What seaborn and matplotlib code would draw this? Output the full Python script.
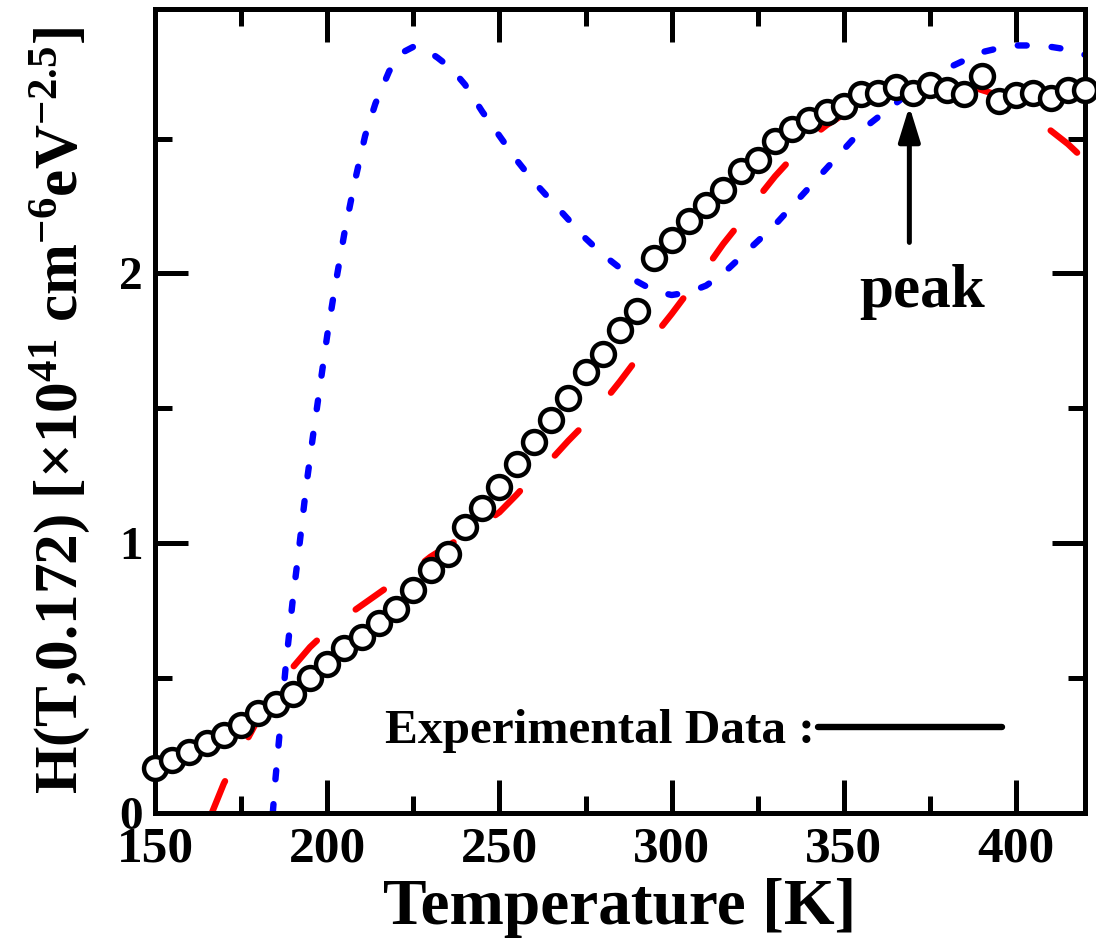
import numpy as np
import pandas as pd
import matplotlib
matplotlib.use("Agg")
import matplotlib.pyplot as plt
from matplotlib.ticker import MultipleLocator
import seaborn as sns

# Measured H(T, 0.172) values, one per 5 K step
exp_T = list(range(150, 421, 5))
exp_H = [0.166, 0.196, 0.227, 0.258, 0.289, 0.326, 0.369, 0.406, 0.44, 0.499,
         0.554, 0.61, 0.653, 0.703, 0.758, 0.826, 0.90, 0.96, 1.06, 1.13,
         1.21, 1.295, 1.375, 1.455, 1.54, 1.635, 1.70, 1.79, 1.86, 2.056,
         2.125, 2.195, 2.255, 2.31, 2.38, 2.42, 2.49, 2.535, 2.57, 2.60,
         2.62, 2.665, 2.67, 2.69, 2.67, 2.70, 2.68, 2.665, 2.73, 2.64,
         2.66, 2.67, 2.65, 2.68, 2.68]

# Model curve (red, long dashes)
red_T = [166.5, 170, 175, 180, 185, 190, 195, 200, 205, 210, 215, 220, 225,
         230, 235, 240, 245, 250, 255, 260, 265, 270, 275, 280, 285, 290,
         295, 300, 305, 310, 315, 320, 325, 330, 335, 340, 345, 350, 355,
         360, 365, 370, 375, 380, 385, 390, 395, 400, 405, 410, 415, 420]
red_H = [0.0, 0.11, 0.23, 0.35, 0.45, 0.54, 0.615, 0.675, 0.725, 0.77, 0.815,
         0.86, 0.90, 0.95, 0.99, 1.03, 1.07, 1.115, 1.18, 1.25, 1.31, 1.38,
         1.445, 1.52, 1.60, 1.685, 1.77, 1.85, 1.935, 2.02, 2.11, 2.19, 2.28,
         2.36, 2.43, 2.50, 2.55, 2.59, 2.62, 2.65, 2.67, 2.69, 2.70, 2.71,
         2.70, 2.68, 2.66, 2.63, 2.58, 2.53, 2.48, 2.42]

# Model curve (blue, short dashes)
blue_T = [184.2, 185, 186, 188, 190, 192, 194, 196, 198, 200, 202, 205, 208,
          211, 214, 218, 222, 225, 228, 232, 236, 240, 245, 250, 255, 260,
          265, 270, 275, 280, 285, 290, 295, 300, 305, 310, 315, 320, 325,
          330, 335, 340, 345, 350, 355, 360, 365, 370, 375, 380, 385, 390,
          395, 400, 405, 410, 415, 420]
blue_H = [0.0, 0.13, 0.27, 0.55, 0.79, 1.00, 1.22, 1.41, 1.59, 1.77, 1.93,
          2.15, 2.34, 2.51, 2.63, 2.75, 2.82, 2.84, 2.835, 2.80, 2.76, 2.70,
          2.60, 2.51, 2.42, 2.34, 2.27, 2.20, 2.13, 2.07, 2.02, 1.97, 1.935,
          1.92, 1.93, 1.955, 2.00, 2.06, 2.12, 2.18, 2.25, 2.32, 2.39, 2.46,
          2.53, 2.58, 2.63, 2.68, 2.72, 2.76, 2.79, 2.82, 2.835, 2.845,
          2.845, 2.84, 2.83, 2.81]

x_ticks = [150, 200, 250, 300, 350, 400]
y_ticks = [0, 1, 2]

exp_df = pd.DataFrame({"T": exp_T, "H": exp_H})
red_df = pd.DataFrame({"T": red_T, "H": red_H})
blue_df = pd.DataFrame({"T": blue_T, "H": blue_H})

sns.set_theme(style="ticks")
plt.rcParams["font.family"] = ["Liberation Serif", "DejaVu Serif"]
plt.rcParams["font.weight"] = "bold"
plt.rcParams["mathtext.fontset"] = "custom"
plt.rcParams["mathtext.rm"] = "Liberation Serif:bold"
plt.rcParams["mathtext.bf"] = "Liberation Serif:bold"
plt.rcParams["mathtext.default"] = "rm"
for key in ("text.color", "axes.labelcolor", "xtick.color", "ytick.color",
            "axes.edgecolor"):
    plt.rcParams[key] = "black"

fig = plt.figure(figsize=(10.96, 9.42), dpi=100)
ax = fig.add_axes([0.1414, 0.1369, 0.8486, 0.8535])

sns.lineplot(data=red_df, x="T", y="H", ax=ax, color="#ff0000", linewidth=4.6,
             sort=False, estimator=None, zorder=2)
ax.lines[-1].set_dashes((5.4, 7.8))
ax.lines[-1].set_dash_capstyle("round")

sns.lineplot(data=blue_df, x="T", y="H", ax=ax, color="#0000ff", linewidth=4.6,
             sort=False, estimator=None, zorder=2)
ax.lines[-1].set_dashes((1.4, 3.9))
ax.lines[-1].set_dash_capstyle("round")

sns.scatterplot(data=exp_df, x="T", y="H", ax=ax, marker="o", s=16.5 ** 2,
                facecolor="white", edgecolor="black", linewidth=3.2,
                zorder=3, clip_on=False)

ax.set_xlim(150, 420)
ax.set_ylim(0, 2.98)
ax.set_xticks(x_ticks)
ax.set_yticks(y_ticks)
ax.xaxis.set_minor_locator(MultipleLocator(25))
ax.yaxis.set_minor_locator(MultipleLocator(0.5))

for s in ax.spines.values():
    s.set_linewidth(3.6)
    s.set_visible(True)
    s.set_color("black")
ax.tick_params(which="both", direction="in", top=True, right=True,
               width=3.6, color="black")
ax.tick_params(which="major", length=24)
ax.tick_params(which="minor", length=12)
ax.tick_params(axis="x", which="major", labelsize=37, pad=10)
ax.tick_params(axis="y", which="major", labelsize=34, pad=9)
for lab in ax.get_xticklabels() + ax.get_yticklabels():
    lab.set_fontweight("bold")

ax.set_xlabel("Temperature [K]", fontsize=47, fontweight="bold", labelpad=4)
ax.set_ylabel(r"H(T,0.172) [×10$^{41}$ cm$^{-6}$eV$^{-2.5}$]",
              fontsize=44, fontweight="bold")
ax.yaxis.set_label_coords(-0.068, 0.5)

# Peak marker
ax.annotate("", xy=(369, 2.62), xytext=(369, 2.115),
            arrowprops=dict(arrowstyle="-|>,head_length=21,head_width=6.5",
                            mutation_scale=1, lw=3.6, color="black",
                            shrinkA=0, shrinkB=0))
ax.text(372.7, 1.875, "peak", fontsize=44, fontweight="bold",
        ha="center", va="baseline")

# Key for the experimental curve
ax.text(0.247, 0.087, "Experimental Data :", transform=ax.transAxes,
        fontsize=35.5, fontweight="bold", ha="left", va="baseline")
ax.plot([0.713, 0.911], [0.107, 0.107], transform=ax.transAxes,
        color="black", lw=4.6, solid_capstyle="round")

fig.savefig("out.png", dpi=100)
